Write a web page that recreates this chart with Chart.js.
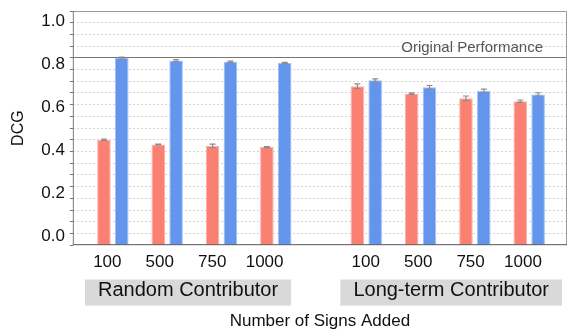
<!DOCTYPE html>
<html>
<head>
<meta charset="utf-8">
<script src="https://cdn.jsdelivr.net/npm/chart.js@4.4.1/dist/chart.umd.min.js"></script>
<style>
  html, body { margin: 0; padding: 0; background: #fff; }
</style>
</head>
<body>
<canvas id="chart" width="568" height="331"></canvas>
<script>
// data
const signCounts = ['100', '500', '750', '1000'];
const groupNames = ['Random Contributor', 'Long-term Contributor'];

const randomRed = [0.450, 0.430, 0.424, 0.419];
const randomRedErr = [0.003, 0.002, 0.008, 0.002];
const randomBlue = [0.799, 0.789, 0.783, 0.778];
const randomBlueErr = [0.004, 0.004, 0.003, 0.003];

const longTermRed = [0.679, 0.647, 0.627, 0.615];
const longTermRedErr = [0.010, 0.003, 0.010, 0.005];
const longTermBlue = [0.704, 0.674, 0.659, 0.644];
const longTermBlueErr = [0.006, 0.008, 0.007, 0.007];

const originalPerformance = 0.8;
const yTickLabels = [0, 0.2, 0.4, 0.6, 0.8, 1.0];

const FONT = '"Liberation Sans", Arial, sans-serif';

// layout of the two groups along the x axes
const barX = (g, i) => i + g * 4.665;
const labelX = (g, i) => i + g * 4.93;
const groupCenters = [1.54, 6.56];

const barPositions = [0, 1].flatMap((g) => signCounts.map((_, i) => barX(g, i)));
const labelPositions = [0, 1].flatMap((g) => signCounts.map((_, i) => labelX(g, i)));

const toPoints = (first, second) => [
  ...first.map((y, i) => ({ x: barX(0, i), y })),
  ...second.map((y, i) => ({ x: barX(1, i), y })),
];

const near = (a, b) => Math.abs(a - b) < 1e-6;
const noLabelPadding = (s) => { s.paddingTop = 0; s.paddingBottom = 0; };

const errorBars = {
  id: 'errorBars',
  afterDatasetsDraw(chart) {
    const { ctx } = chart;
    const y = chart.scales.y;
    ctx.save();
    ctx.strokeStyle = '#8c8c8c';
    ctx.lineWidth = 1.2;
    chart.data.datasets.forEach((ds, di) => {
      chart.getDatasetMeta(di).data.forEach((bar, i) => {
        const v = ds.data[i].y;
        const e = ds.errors[i];
        const top = y.getPixelForValue(v + e);
        const bottom = y.getPixelForValue(v - e);
        const x = bar.x;
        ctx.beginPath();
        ctx.moveTo(x, top);
        ctx.lineTo(x, bottom);
        ctx.moveTo(x - 3, top);
        ctx.lineTo(x + 3, top);
        ctx.moveTo(x - 3, bottom);
        ctx.lineTo(x + 3, bottom);
        ctx.stroke();
      });
    });
    ctx.restore();
  },
};

const frame = {
  id: 'frame',
  afterDraw(chart) {
    const { ctx, chartArea: a } = chart;
    const y = chart.scales.y;
    ctx.save();
    ctx.lineWidth = 1;
    ctx.strokeStyle = '#9a9a9a';
    ctx.beginPath();
    ctx.moveTo(a.left, a.top + 0.5);
    ctx.lineTo(a.right - 0.5, a.top + 0.5);
    ctx.lineTo(a.right - 0.5, a.bottom);
    ctx.stroke();
    ctx.strokeStyle = '#7a7a7a';
    ctx.beginPath();
    ctx.moveTo(a.left + 0.5, a.top);
    ctx.lineTo(a.left + 0.5, a.bottom);
    ctx.stroke();
    ctx.strokeStyle = '#555';
    ctx.beginPath();
    ctx.moveTo(a.left, a.bottom - 0.5);
    ctx.lineTo(a.right, a.bottom - 0.5);
    ctx.stroke();

    ctx.font = '15px ' + FONT;
    ctx.fillStyle = '#555';
    ctx.textAlign = 'right';
    ctx.textBaseline = 'middle';
    ctx.fillText('Original Performance', a.right - 24, y.getPixelForValue(originalPerformance) - 10);
    ctx.restore();
  },
};

new Chart(document.getElementById('chart'), {
  type: 'bar',
  data: {
    datasets: [
      {
        data: toPoints(randomRed, longTermRed),
        errors: [...randomRedErr, ...longTermRedErr],
        backgroundColor: '#FA8072',
        borderColor: '#FCAFA6',
        borderWidth: 1,
        borderSkipped: 'bottom',
      },
      {
        data: toPoints(randomBlue, longTermBlue),
        errors: [...randomBlueErr, ...longTermBlueErr],
        backgroundColor: '#6495ED',
        borderColor: '#A2BEF4',
        borderWidth: 1,
        borderSkipped: 'bottom',
      },
    ],
  },
  options: {
    responsive: false,
    animation: false,
    categoryPercentage: 0.657,
    barPercentage: 0.76,
    layout: { padding: { left: 9, right: 1, top: 11, bottom: -1 } },
    plugins: { legend: { display: false }, tooltip: { enabled: false } },
    scales: {
      x: {
        type: 'linear',
        display: false,
        offset: false,
        min: -0.737,
        max: 8.361,
        afterBuildTicks: (s) => { s.ticks = barPositions.map((value) => ({ value })); },
      },
      xl: {
        type: 'linear',
        position: 'bottom',
        weight: 0,
        offset: false,
        min: -0.658,
        max: 8.769,
        grid: { display: false, drawTicks: false, offset: false },
        border: { display: false },
        afterBuildTicks: (s) => { s.ticks = labelPositions.map((value) => ({ value })); },
        ticks: {
          autoSkip: false,
          maxRotation: 0,
          padding: 7,
          color: '#111',
          font: { family: FONT, size: 17 },
          callback: (v, i) => signCounts[i % signCounts.length],
        },
      },
      xg: {
        type: 'linear',
        position: 'bottom',
        weight: 1,
        offset: false,
        min: -0.658,
        max: 8.769,
        grid: { display: false, drawTicks: false, offset: false },
        border: { display: false },
        afterBuildTicks: (s) => { s.ticks = groupCenters.map((value) => ({ value })); },
        ticks: {
          autoSkip: false,
          maxRotation: 0,
          padding: -1,
          color: '#111',
          font: { family: FONT, size: 20 },
          showLabelBackdrop: true,
          backdropColor: '#d9d9d9',
          backdropPadding: { top: 5, bottom: 3, left: 13, right: 13 },
          callback: (v, i) => groupNames[i],
        },
        title: {
          display: true,
          text: 'Number of Signs Added',
          color: '#111',
          font: { family: FONT, size: 17 },
          padding: { top: 10, bottom: 0 },
        },
      },
      y: {
        min: 0,
        max: 1,
        weight: 0,
        afterFit: noLabelPadding,
        border: {
          display: false,
          dash: (c) => (near(c.tick.value, originalPerformance) ? [] : [2, 2]),
        },
        grid: {
          color: (c) => {
            const v = c.tick.value;
            if (near(v, 0) || near(v, 1)) return 'rgba(0,0,0,0)';
            return near(v, originalPerformance) ? '#777' : '#d4d4d4';
          },
          tickLength: 3,
          tickColor: '#777',
        },
        ticks: { stepSize: 0.05, display: false },
      },
      yl: {
        type: 'linear',
        position: 'left',
        weight: 1,
        min: -0.0437,
        max: 1.0488,
        afterFit: noLabelPadding,
        grid: { display: false, drawTicks: false },
        border: { display: false },
        afterBuildTicks: (s) => { s.ticks = yTickLabels.map((value) => ({ value })); },
        ticks: {
          padding: 5,
          color: '#111',
          font: { family: FONT, size: 17 },
          callback: (v) => Number(v).toFixed(1),
        },
        title: {
          display: true,
          text: 'DCG',
          color: '#111',
          font: { family: FONT, size: 16 },
          padding: { top: 0, bottom: 8 },
        },
      },
    },
  },
  plugins: [errorBars, frame],
});
</script>
</body>
</html>
